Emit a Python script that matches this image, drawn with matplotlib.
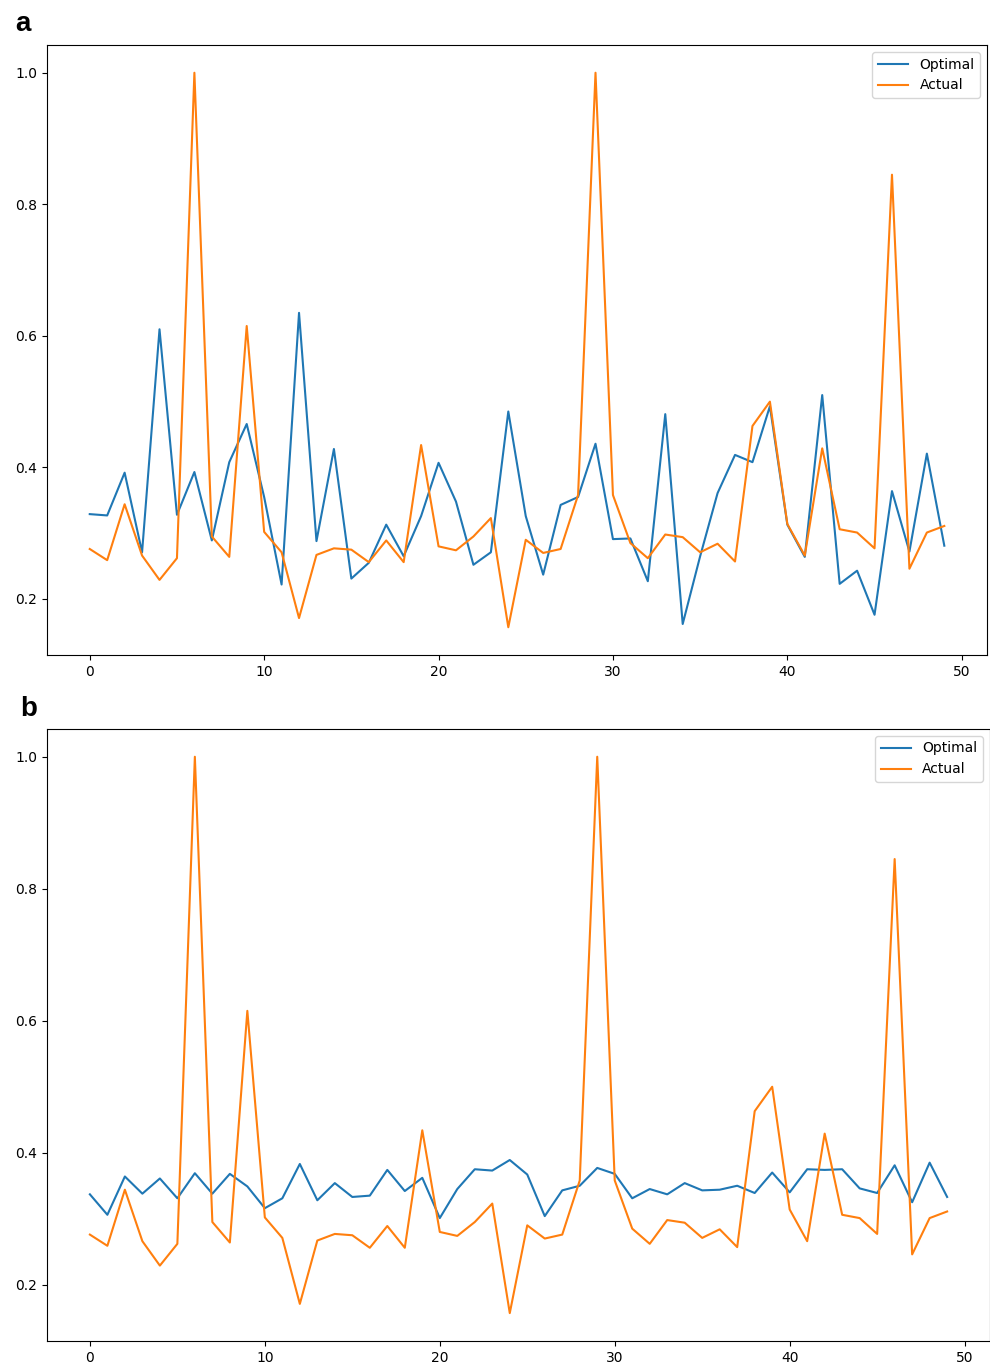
import matplotlib
matplotlib.use("Agg")
import matplotlib.pyplot as plt

# 50 steps, values
steps = list(range(50))

# panel a
optimal_a = [0.329, 0.327, 0.392, 0.271, 0.610, 0.328, 0.393, 0.289, 0.408, 0.466,
             0.355, 0.222, 0.635, 0.288, 0.428, 0.231, 0.255, 0.313, 0.265, 0.326,
             0.407, 0.348, 0.252, 0.271, 0.485, 0.326, 0.237, 0.343, 0.355, 0.436,
             0.291, 0.292, 0.227, 0.481, 0.162, 0.265, 0.361, 0.419, 0.408, 0.493,
             0.313, 0.264, 0.510, 0.223, 0.243, 0.176, 0.364, 0.272, 0.421, 0.281]

# "Actual" is the same curve in both panels
actual = [0.276, 0.259, 0.344, 0.266, 0.229, 0.262, 1.000, 0.295, 0.264, 0.615,
          0.302, 0.271, 0.171, 0.267, 0.277, 0.275, 0.256, 0.289, 0.256, 0.434,
          0.280, 0.274, 0.295, 0.323, 0.157, 0.290, 0.270, 0.276, 0.358, 1.000,
          0.358, 0.285, 0.262, 0.298, 0.294, 0.271, 0.284, 0.257, 0.463, 0.500,
          0.314, 0.266, 0.429, 0.306, 0.301, 0.277, 0.845, 0.246, 0.301, 0.311]

# panel b
optimal_b = [0.337, 0.306, 0.364, 0.338, 0.361, 0.331, 0.369, 0.338, 0.368, 0.349,
             0.316, 0.331, 0.383, 0.328, 0.354, 0.333, 0.335, 0.374, 0.342, 0.362,
             0.301, 0.345, 0.375, 0.373, 0.389, 0.367, 0.304, 0.343, 0.350, 0.377,
             0.368, 0.331, 0.345, 0.337, 0.354, 0.343, 0.344, 0.350, 0.339, 0.370,
             0.340, 0.375, 0.374, 0.375, 0.346, 0.339, 0.381, 0.325, 0.385, 0.333]

panels = [("a", optimal_a), ("b", optimal_b)]

plt.rcParams["font.size"] = 10

fig = plt.figure(figsize=(9.9, 13.64), dpi=100)
ax_a = fig.add_axes([0.0475, 0.5198, 0.9495, 0.4472])
ax_b = fig.add_axes([0.0475, 0.0169, 0.9525, 0.4487])

for ax, (name, optimal) in zip([ax_a, ax_b], panels):
    ax.plot(steps, optimal, color="#1f77b4", label="Optimal")
    ax.plot(steps, actual, color="#ff7f0e", label="Actual")
    ax.set_xticks([0, 10, 20, 30, 40, 50])
    ax.set_yticks([0.2, 0.4, 0.6, 0.8, 1.0])
    ax.legend(loc="upper right", fontsize=10, handlelength=2.2)

fig.text(0.015, 0.977, "a", fontsize=20, fontweight="bold",
         family="Liberation Sans", va="baseline")
fig.text(0.020, 0.475, "b", fontsize=20, fontweight="bold",
         family="Liberation Sans", va="baseline")

fig.savefig("out.png", dpi=100)
